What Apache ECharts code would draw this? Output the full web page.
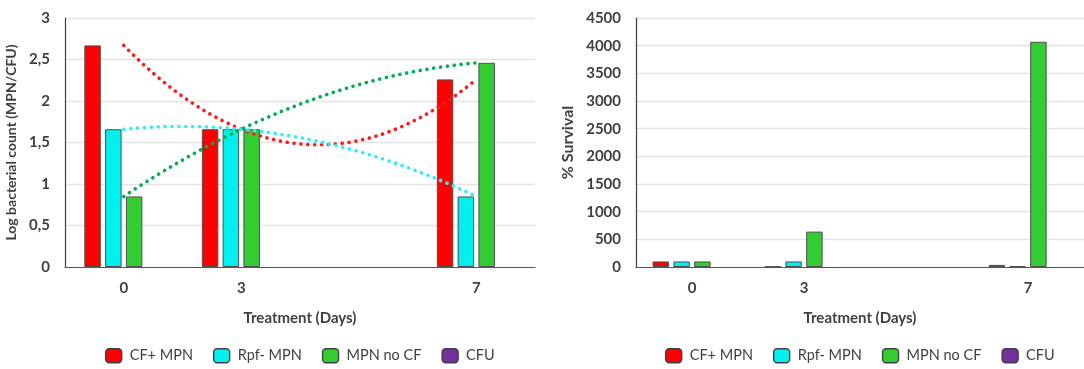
<!DOCTYPE html>
<html>
<head>
<meta charset="utf-8">
<script src="https://cdn.jsdelivr.net/npm/echarts@6/dist/echarts.min.js"></script>
<style>
  html, body { margin: 0; padding: 0; background: #ffffff; }
  #chart { width: 1084px; height: 369px; }
</style>
</head>
<body>
<div id="chart"></div>
<script>
// Sampling days (the blank slot keeps the gap between day 3 and day 7)
const days = ['0', '3', '', '7'];
const seriesNames = ['CF+ MPN', 'Rpf- MPN', 'MPN no CF', 'CFU'];

// Log bacterial count (MPN/CFU)
const logCfMpn   = [2.67, 1.66, null, 2.26];
const logRpfMpn  = [1.66, 1.66, null, 0.85];
const logNoCfMpn = [0.85, 1.66, null, 2.46];
const logCfu     = [null, null, null, null];

// % Survival relative to day 0
const survCfMpn   = [100, 10, null, 38];
const survRpfMpn  = [100, 100, null, 15];
const survNoCfMpn = [100, 640, null, 4070];
const survCfu     = [null, null, null, null];

// Tick labels
const logTickLabels  = ['0', '0,5', '1', '1,5', '2', '2,5', '3'];
const survTickLabels = ['0', '500', '1000', '1500', '2000', '2500', '3000', '3500', '4000', '4500'];

const barColors   = ['#ff0000', '#00f0f0', '#33cc33', '#7030a0'];
const trendColors = ['#ff1a1a', '#33eef0', '#00b050'];
const FONT = 'Lato, "Open Sans", sans-serif';
const TEXT = '#404040';

// Least-squares polynomial fit (order 2) over category positions
function polyFit2(xs, ys) {
  const S = [0, 0, 0, 0, 0], T = [0, 0, 0];
  xs.forEach((x, i) => {
    for (let k = 0; k < 5; k++) S[k] += Math.pow(x, k);
    for (let k = 0; k < 3; k++) T[k] += ys[i] * Math.pow(x, k);
  });
  const A = [[S[0], S[1], S[2], T[0]], [S[1], S[2], S[3], T[1]], [S[2], S[3], S[4], T[2]]];
  for (let c = 0; c < 3; c++) {
    for (let r = c + 1; r < 3; r++) {
      const f = A[r][c] / A[c][c];
      for (let k = c; k < 4; k++) A[r][k] -= f * A[c][k];
    }
  }
  const coef = [0, 0, 0];
  for (let r = 2; r >= 0; r--) {
    let s = A[r][3];
    for (let k = r + 1; k < 3; k++) s -= A[r][k] * coef[k];
    coef[r] = s / A[r][r];
  }
  return coef;
}

function trendPoints(values) {
  const xs = [], ys = [];
  values.forEach((v, i) => { if (v != null) { xs.push(i); ys.push(v); } });
  const c = polyFit2(xs, ys);
  const x0 = xs[0], x1 = xs[xs.length - 1];
  const pts = [];
  const n = 90;
  for (let i = 0; i <= n; i++) {
    const x = x0 + (x1 - x0) * i / n;
    pts.push([x, c[0] + c[1] * x + c[2] * x * x]);
  }
  return pts;
}

const logData  = [logCfMpn, logRpfMpn, logNoCfMpn, logCfu];
const survData = [survCfMpn, survRpfMpn, survNoCfMpn, survCfu];

function barSeries(dataSets, axisIndex) {
  return dataSets.map((d, i) => ({
    name: seriesNames[i],
    type: 'bar',
    xAxisIndex: axisIndex,
    yAxisIndex: axisIndex,
    data: d,
    barWidth: 16.5,
    barGap: '26%',
    itemStyle: { color: barColors[i], borderColor: '#505050', borderWidth: 1 },
    emphasis: { disabled: true },
    z: 2
  }));
}

const trendSeries = [logCfMpn, logRpfMpn, logNoCfMpn].map((d, i) => ({
  name: seriesNames[i] + ' trend',
  type: 'line',
  xAxisIndex: 2,
  yAxisIndex: 0,
  data: trendPoints(d),
  showSymbol: false,
  symbol: 'none',
  silent: true,
  lineStyle: { color: trendColors[i], width: 3.6, type: [0.1, 6.8], cap: 'round' },
  z: 5
}));

const legendBase = {
  top: 348,
  padding: 0,
  itemWidth: 16,
  itemHeight: 14,
  itemGap: 20,
  icon: 'roundRect',
  data: seriesNames,
  itemStyle: { borderColor: '#404040', borderWidth: 1.4 },
  textStyle: { fontFamily: FONT, fontSize: 14.5, color: TEXT, padding: [0, 0, 0, 3] }
};

const catAxis = (gridIndex) => ({
  type: 'category',
  gridIndex,
  data: days,
  axisTick: { show: false },
  axisLine: { lineStyle: { color: '#595959', width: 1.2 } },
  axisLabel: { fontFamily: FONT, fontSize: 15, fontWeight: 'bold', color: TEXT, margin: 14 },
  name: 'Treatment (Days)',
  nameLocation: 'middle',
  nameGap: 44,
  nameTextStyle: { fontFamily: FONT, fontSize: 15, fontWeight: 'bold', color: TEXT }
});

const valueAxis = (gridIndex, max, interval, labels, name, nameGap, nameSize) => ({
  type: 'value', gridIndex, min: 0, max, interval,
  axisLine: { show: true, onZero: false, lineStyle: { color: '#404040', width: 1.2 } },
  axisTick: { show: false },
  splitLine: { lineStyle: { color: '#e4e4e4', width: 1.3 } },
  axisLabel: {
    fontFamily: FONT, fontSize: 15, fontWeight: 'bold', color: TEXT, margin: 15,
    formatter: (v) => labels[Math.round(v / interval)]
  },
  name,
  nameLocation: 'middle',
  nameGap,
  nameTextStyle: { fontFamily: FONT, fontSize: nameSize, fontWeight: 'bold', color: TEXT }
});

const option = {
  animation: false,
  backgroundColor: '#ffffff',
  grid: [
    { left: 65, top: 18, width: 470, height: 249 },
    { left: 636, top: 18, width: 456, height: 249 }
  ],
  legend: [
    Object.assign({}, legendBase, { left: 105 }),
    Object.assign({}, legendBase, { left: 665 })
  ],
  xAxis: [
    catAxis(0),
    catAxis(1),
    { type: 'value', gridIndex: 0, min: -0.5, max: days.length - 0.5, show: false }
  ],
  yAxis: [
    valueAxis(0, 3, 0.5, logTickLabels, 'Log bacterial count (MPN/CFU)', 47, 14),
    valueAxis(1, 4500, 500, survTickLabels, '% Survival', 60, 16)
  ],
  series: [].concat(barSeries(logData, 0), barSeries(survData, 1), trendSeries)
};

const chart = echarts.init(document.getElementById('chart'), null, { renderer: 'canvas' });
chart.setOption(option);
</script>
</body>
</html>
